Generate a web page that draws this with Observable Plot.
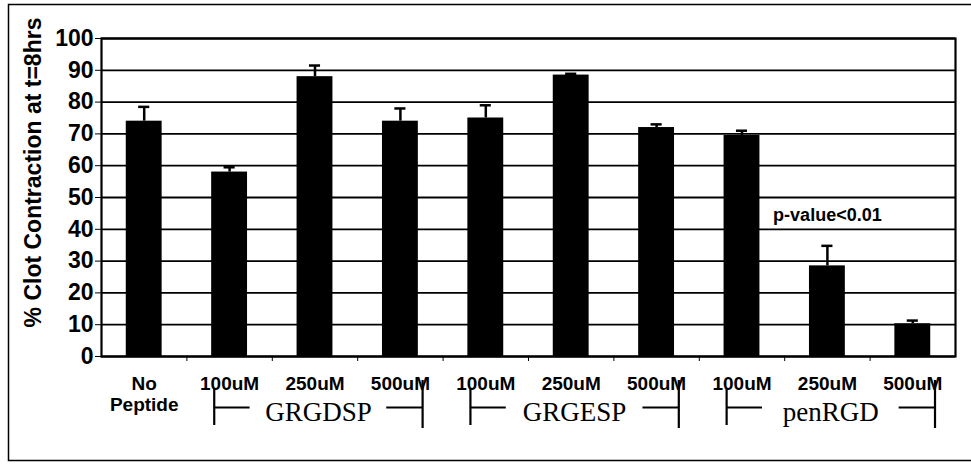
<!DOCTYPE html>
<html><head><meta charset="utf-8">
<script src="https://cdn.jsdelivr.net/npm/d3@7"></script>
<script src="https://cdn.jsdelivr.net/npm/@observablehq/plot@0.6"></script>
<style>body{margin:0;background:#fff} svg{display:block}</style>
</head><body><div id="chart"></div>
<script>
const conditions = ["No\nPeptide","100uM","250uM","500uM","100uM","250uM","500uM","100uM","250uM","500uM"];
const peptides = ["None","GRGDSP","GRGDSP","GRGDSP","GRGESP","GRGESP","GRGESP","penRGD","penRGD","penRGD"];
const means  = [74, 58, 88, 74, 75, 88.5, 72, 69.5, 28.5, 10.3];
const errors = [4.5, 1.5, 3.5, 4, 4, 0.4, 1, 1.5, 6.3, 1];
const groupNames = ["GRGDSP","GRGESP","penRGD"];
const yTicks = [0,10,20,30,40,50,60,70,80,90,100];
const yTitle = "% Clot Contraction at t=8hrs";
const note = "p-value<0.01";
const noteIndex = 8;

const data = conditions.map((c, i) => ({i, condition: c, peptide: peptides[i], mean: means[i], hi: means[i] + errors[i]}));
const groups = groupNames.map(g => {
  const idx = data.filter(d => d.peptide === g).map(d => d.i);
  const first = d3.min(idx), last = d3.max(idx);
  const left = first - 0.18, right = last + 0.26;
  return {name: g, left, right, mid: (left + right) / 2};
});
const boundaries = data.slice(1).map(d => d.i - 0.5);
const half = 0.21, cap = 0.065, stub = 0.42;

const chart = Plot.plot({
  width: 971, height: 466,
  marginLeft: 101, marginRight: 16, marginTop: 38, marginBottom: 110,
  style: {fontFamily: "'Liberation Sans', Arial, sans-serif", fontWeight: "bold", background: "white", color: "black"},
  x: {type: "linear", domain: [-0.5, data.length - 0.5]},
  y: {domain: [0, 100]},
  marks: [
    Plot.frame({stroke: "black", strokeWidth: 1.5, insetLeft: -93, insetTop: -34, insetBottom: -104, insetRight: -40}),
    Plot.gridY(yTicks, {stroke: "black", strokeOpacity: 1, strokeWidth: 1.8}),
    Plot.rectY(data, {x1: d => d.i - half, x2: d => d.i + half, y: "mean", fill: "black"}),
    Plot.ruleX(data, {x: "i", y1: "mean", y2: "hi", stroke: "black", strokeWidth: 2.5}),
    Plot.ruleY(data, {x1: d => d.i - cap, x2: d => d.i + cap, y: "hi", stroke: "black", strokeWidth: 2.5}),
    Plot.frame({stroke: "black", strokeWidth: 2.2}),
    Plot.axisY({ticks: yTicks, tickSize: 6, tickPadding: 2, fontSize: 23, label: null, stroke: "black"}),
    Plot.axisX({ticks: boundaries, tickSize: 5, tickFormat: () => "", label: null}),
    Plot.text(data, {x: "i", y: 0, text: "condition", dy: 19, lineAnchor: "top", fontSize: 19, lineHeight: 1.1, fill: "black"}),
    Plot.ruleX(groups, {x: "left", insetTop: 350, insetBottom: -69, stroke: "black", strokeWidth: 2.2}),
    Plot.ruleX(groups, {x: "right", insetTop: 342, insetBottom: -72, stroke: "black", strokeWidth: 2.2}),
    Plot.ruleY(groups, {x1: "left", x2: d => d.left + stub, y: 0, dy: 51, stroke: "black", strokeWidth: 2.2}),
    Plot.ruleY(groups, {x1: d => d.right - stub, x2: "right", y: 0, dy: 51, stroke: "black", strokeWidth: 2.2}),
    Plot.text(groups, {x: "mid", y: 0, text: "name", dy: 56, fontFamily: "'Liberation Serif', 'Times New Roman', serif", fontWeight: "normal", fontSize: 27, fill: "black"}),
    Plot.text([data[noteIndex]], {x: "i", y: "hi", text: () => note, dy: -31, fontSize: 18, fill: "black"}),
    Plot.text([yTitle], {frameAnchor: "left", textAnchor: "middle", rotate: -90, dx: -68, dy: -25, fontSize: 23, fill: "black"})
  ]
});
document.getElementById("chart").append(chart);
</script>
</body></html>
